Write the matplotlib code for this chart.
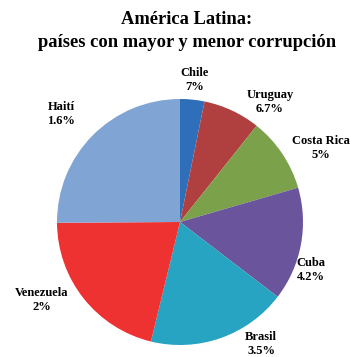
import matplotlib
matplotlib.use("Agg")
import matplotlib.pyplot as plt

# slice sizes (share of the pie) and the text shown on each label
paises = ["Chile", "Uruguay", "Costa Rica", "Cuba", "Brasil", "Venezuela", "Haití"]
porciones = [3.2, 7.5, 9.8, 14.9, 18.4, 21.1, 25.1]
etiquetas = ["7%", "6.7%", "5%", "4.2%", "3.5%", "2%", "1.6%"]
colores = ["#2F6EB9", "#B0403F", "#7BA24A", "#6A559D", "#26A4C1", "#EE3131", "#80A5D5"]

# label anchor points in pixel coordinates (x, y from top)
pos_etiquetas = [(195, 80), (270, 102), (321, 148), (311, 270), (261, 344), (42, 300), (61, 114)]

W, H = 350, 357
fig = plt.figure(figsize=(W / 100, H / 100), dpi=100)
ax = fig.add_axes([0, 0, 1, 1])

ax.pie(porciones, colors=colores, startangle=90, counterclock=False,
       center=(180, H - 222), radius=123, frame=True,
       wedgeprops=dict(linewidth=0))
ax.set_xlim(0, W)
ax.set_ylim(0, H)
ax.set_aspect("equal")
ax.axis("off")

fuente = "Liberation Serif"
for nombre, txt, (x, y) in zip(paises, etiquetas, pos_etiquetas):
    ax.text(x, H - y, f"{nombre}\n{txt}", ha="center", va="center",
            fontsize=9, fontweight="bold", family=fuente, linespacing=1.3)

fig.text(187 / W, 1 - 31 / H, "América Latina:\npaíses con mayor y menor corrupción",
         ha="center", va="center", fontsize=13.3, fontweight="bold",
         family=fuente, linespacing=1.45)

fig.savefig("out.png", dpi=100)
